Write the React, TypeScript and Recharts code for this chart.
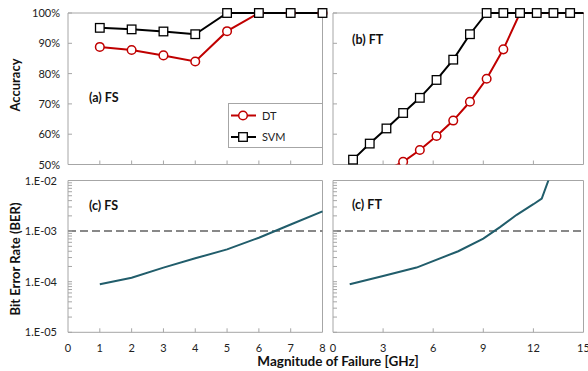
import React from "react"
import { LineChart, Line, XAxis, YAxis, ReferenceArea, ReferenceLine, Legend } from "recharts"

// frequency steps (GHz)
const fsFreq = [1, 2, 3, 4, 5, 6, 7, 8]
const ftFreq = [1.2, 2.2, 3.2, 4.2, 5.2, 6.2, 7.2, 8.2, 9.2, 10.2, 11.2, 12.2, 13.2, 14.2, 15]

// accuracy
const fsAccDT = [0.888, 0.878, 0.86, 0.84, 0.94, 1, 1, 1]
const fsAccSVM = [0.951, 0.946, 0.939, 0.93, 1, 1, 1, 1]
const ftAccDT = [null, null, 0.481, 0.509, 0.548, 0.594, 0.645, 0.707, 0.783, 0.88, 1, 1, 1, 1, 1]
const ftAccSVM = [0.516, 0.569, 0.619, 0.67, 0.72, 0.779, 0.846, 0.93, 1, 1, 1, 1, 1, 1, 1]

// bit error rate
const fsBer = [8.9e-5, 1.2e-4, 1.9e-4, 2.9e-4, 4.35e-4, 7.4e-4, 1.35e-3, 2.45e-3]
const ftBerFreq = [1, 3, 5, 7.5, 9, 10, 11, 12, 12.5, 13.5]
const ftBer = [8.9e-5, 1.3e-4, 1.9e-4, 4e-4, 7.1e-4, 1.2e-3, 2.1e-3, 3.4e-3, 4.4e-3, 3.5e-2]
const berThreshold = 1e-3

// ticks
const fsXTicks = [1, 2, 3, 4, 5, 6, 7, 8]
const fsXLabels = [0, 1, 2, 3, 4, 5, 6, 7, 8]
const ftXTicks = [3, 6, 9, 12]
const ftXLabels = [0, 3, 6, 9, 12, 15]
const accTicks = [0.5, 0.6, 0.7, 0.8, 0.9, 1]
const berDecades = [1e-5, 1e-4, 1e-3, 1e-2]
const berTicks = [-5, -4, -3].flatMap((d) => [1, 2, 3, 4, 5, 6, 7, 8, 9].map((k) => k * Math.pow(10, d))).concat([1e-2])

const fsAcc = fsFreq.map((x, i) => ({ x, dt: fsAccDT[i], svm: fsAccSVM[i] }))
const ftAcc = ftFreq.map((x, i) => ({ x, dt: ftAccDT[i], svm: ftAccSVM[i] }))
const fsBerData = fsFreq.map((x, i) => ({ x, ber: fsBer[i] }))
const ftBerData = ftBerFreq.map((x, i) => ({ x, ber: ftBer[i] }))

const FONT = "Lato, 'Liberation Sans', sans-serif"
const FRAME = "#a6a6a6"
const RED = "#c00000"
const TEAL = "#215d6b"

const W = 588
const H = 371
const YW = 60
const XH = 30
const topM = { top: 13, bottom: 206.5 - XH }
const botM = { top: 180.5, bottom: 38.7 - XH }
const leftM = { left: 68 - YW, right: 265.5 }
const rightM = { left: 333 - YW, right: 4.5 }

function YTick(props: any) {
  const { x, y, payload, label } = props
  const v = payload.value
  const isDecade = berDecades.some((d) => Math.abs(d - v) / d < 1e-6)
  let text: string | null = null
  if (label === "pct") text = Math.round(v * 100) + "%"
  if (label === "log" && isDecade) text = "1.E-0" + Math.round(-Math.log10(v))
  return (
    <g>
      <line x1={x} x2={x + 4} y1={y} y2={y} stroke={FRAME} />
      {text && (
        <text x={label === "log" ? x - 11 : x - 8} y={y} dy={4} textAnchor="end" fontSize={11} fontFamily={FONT} fill="#222">
          {text}
        </text>
      )}
    </g>
  )
}

function XTick(props: any) {
  const { x, y, payload, labels } = props
  const v = payload.value
  const showLine = v !== 0 && v !== 15 && !(v === 8 && labels)
  return (
    <g>
      {showLine && <line x1={x} x2={x} y1={y} y2={y - 4} stroke={FRAME} />}
      {labels && (
        <text x={x} y={y + 20} textAnchor="middle" fontSize={11} fontFamily={FONT} fill="#222">
          {v}
        </text>
      )}
    </g>
  )
}

function CircleDot(props: any) {
  const { cx, cy, payload, value } = props
  if (value == null || payload.x >= 15) return <g key={props.key} />
  return <circle key={props.key} cx={cx} cy={cy} r={4.3} fill="#fff" stroke={RED} strokeWidth={1.5} />
}

function SquareDot(props: any) {
  const { cx, cy, payload } = props
  if (payload.x >= 15) return <g key={props.key} />
  return <rect key={props.key} x={cx - 4.3} y={cy - 4.3} width={8.6} height={8.6} fill="#fff" stroke="#000" strokeWidth={1.3} />
}

function LegendBox() {
  return (
    <svg width={95} height={45}>
      <rect x={0.5} y={0.5} width={94} height={44} fill="#fff" stroke={FRAME} />
      <line x1={3} x2={28} y1={12.5} y2={12.5} stroke={RED} strokeWidth={2} />
      <circle cx={15} cy={12.5} r={4.3} fill="#fff" stroke={RED} strokeWidth={1.5} />
      <text x={34} y={16.5} fontSize={11} fontFamily={FONT} fill="#222">DT</text>
      <line x1={3} x2={28} y1={34} y2={34} stroke="#000" strokeWidth={2} />
      <rect x={10.7} y={29.7} width={8.6} height={8.6} fill="#fff" stroke="#000" strokeWidth={1.3} />
      <text x={34} y={38} fontSize={11} fontFamily={FONT} fill="#222">SVM</text>
    </svg>
  )
}

const abs: React.CSSProperties = { position: "absolute", left: 0, top: 0 }

function Label({ x, y, children, rotate, center, size = 12.5 }: { x: number; y: number; children: React.ReactNode; rotate?: boolean; center?: boolean; size?: number }) {
  return (
    <div
      style={{
        position: "absolute",
        left: x,
        top: y,
        transform: rotate ? "translate(-50%, -50%) rotate(-90deg)" : center ? "translate(-50%, -50%)" : "translate(0, -50%)",
        fontFamily: FONT,
        fontWeight: 700,
        fontSize: size,
        color: "#111",
        whiteSpace: "nowrap",
        lineHeight: 1,
      }}
    >
      {children}
    </div>
  )
}

export default function App() {
  return (
    <div style={{ position: "absolute", left: 0, top: 0, width: W, height: H, background: "#fff" }}>
      {/* (a) FS accuracy */}
      <div style={abs}>
        <LineChart width={W} height={H} data={fsAcc} margin={{ ...topM, ...leftM }}>
          <XAxis type="number" dataKey="x" domain={[0, 8]} ticks={fsXTicks} interval={0} height={XH} axisLine={false} tickLine={false} tickSize={0} tickMargin={0} tick={(p: any) => <XTick {...p} />} />
          <YAxis domain={[0.5, 1]} ticks={accTicks} interval={0} width={YW} axisLine={false} tickLine={false} tickSize={0} tickMargin={0} tick={(p: any) => <YTick {...p} label="pct" />} />
          <ReferenceArea x1={0} x2={8} y1={0.5} y2={1} fill="none" stroke={FRAME} strokeOpacity={1} fillOpacity={0} />
          <Line dataKey="dt" stroke={RED} strokeWidth={2} dot={(p: any) => <CircleDot {...p} />} isAnimationActive={false} />
          <Line dataKey="svm" stroke="#000" strokeWidth={2} dot={(p: any) => <SquareDot {...p} />} isAnimationActive={false} />
          <Legend layout="vertical" align="center" verticalAlign="middle" wrapperStyle={{ left: 228, top: 103, width: 95, height: 45 }} content={() => <LegendBox />} />
        </LineChart>
      </div>

      {/* (b) FT accuracy */}
      <div style={abs}>
        <LineChart width={W} height={H} data={ftAcc} margin={{ ...topM, ...rightM }}>
          <XAxis type="number" dataKey="x" domain={[0, 15]} ticks={ftXTicks} interval={0} height={XH} axisLine={false} tickLine={false} tickSize={0} tickMargin={0} tick={(p: any) => <XTick {...p} />} />
          <YAxis yAxisId="a" domain={[0.5, 1]} ticks={accTicks} interval={0} width={YW} axisLine={false} tickLine={false} tickSize={0} tickMargin={0} tick={(p: any) => <YTick {...p} />} />
          <YAxis yAxisId="clip" domain={[0.5, 1]} allowDataOverflow hide />
          <ReferenceArea yAxisId="a" x1={0} x2={15} y1={0.5} y2={1} fill="none" stroke={FRAME} strokeOpacity={1} fillOpacity={0} />
          <Line yAxisId="clip" dataKey="dt" stroke={RED} strokeWidth={2} dot={(p: any) => <CircleDot {...p} />} isAnimationActive={false} />
          <Line yAxisId="a" dataKey="svm" stroke="#000" strokeWidth={2} dot={(p: any) => <SquareDot {...p} />} isAnimationActive={false} />
        </LineChart>
      </div>

      {/* (c) FS BER */}
      <div style={abs}>
        <LineChart width={W} height={H} data={fsBerData} margin={{ ...botM, ...leftM }}>
          <XAxis type="number" dataKey="x" domain={[0, 8]} ticks={fsXLabels} interval={0} height={XH} axisLine={false} tickLine={false} tickSize={0} tickMargin={0} tick={(p: any) => <XTick {...p} labels />} />
          <YAxis scale="log" domain={[1e-5, 1e-2]} ticks={berTicks} interval={0} allowDataOverflow width={YW} axisLine={false} tickLine={false} tickSize={0} tickMargin={0} tick={(p: any) => <YTick {...p} label="log" />} />
          <ReferenceArea x1={0} x2={8} y1={1e-5} y2={1e-2} fill="none" stroke={FRAME} strokeOpacity={1} fillOpacity={0} />
          <ReferenceLine y={berThreshold} stroke="#888" strokeWidth={2} strokeDasharray="8 4" />
          <Line dataKey="ber" stroke={TEAL} strokeWidth={2} dot={false} isAnimationActive={false} />
        </LineChart>
      </div>

      {/* (c) FT BER */}
      <div style={abs}>
        <LineChart width={W} height={H} data={ftBerData} margin={{ ...botM, ...rightM }}>
          <XAxis type="number" dataKey="x" domain={[0, 15]} ticks={ftXLabels} interval={0} height={XH} axisLine={false} tickLine={false} tickSize={0} tickMargin={0} tick={(p: any) => <XTick {...p} labels />} />
          <YAxis scale="log" domain={[1e-5, 1e-2]} ticks={berTicks} interval={0} allowDataOverflow width={YW} axisLine={false} tickLine={false} tickSize={0} tickMargin={0} tick={(p: any) => <YTick {...p} />} />
          <ReferenceArea x1={0} x2={15} y1={1e-5} y2={1e-2} fill="none" stroke={FRAME} strokeOpacity={1} fillOpacity={0} />
          <ReferenceLine y={berThreshold} stroke="#888" strokeWidth={2} strokeDasharray="8 4" />
          <Line dataKey="ber" stroke={TEAL} strokeWidth={2} dot={false} isAnimationActive={false} />
        </LineChart>
      </div>

      <Label x={89} y={98}>(a) FS</Label>
      <Label x={352} y={40}>(b) FT</Label>
      <Label x={89} y={206}>(c) FS</Label>
      <Label x={352} y={205}>(c) FT</Label>
      <Label x={15} y={85} rotate size={13}>Accuracy</Label>
      <Label x={15} y={259} rotate size={13}>Bit Error Rate (BER)</Label>
      <Label x={338} y={362} center size={13.5}>Magnitude of Failure [GHz]</Label>
    </div>
  )
}
